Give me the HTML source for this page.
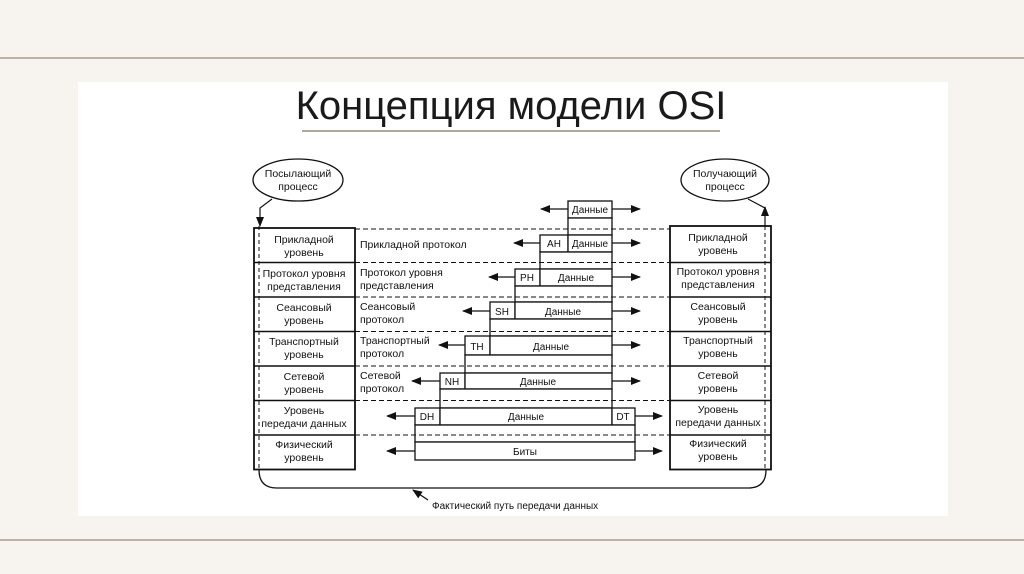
<!DOCTYPE html>
<html><head><meta charset="utf-8"><style>
html,body{margin:0;padding:0;width:1024px;height:574px;overflow:hidden;background:#f7f3ef}
svg{display:block}
</style></head><body>
<svg width="1024" height="574" viewBox="0 0 1024 574" xmlns="http://www.w3.org/2000/svg" font-family="Liberation Sans, DejaVu Sans, sans-serif">
<defs>
<marker id="ah" markerWidth="10" markerHeight="8" refX="9" refY="4" orient="auto" markerUnits="userSpaceOnUse"><path d="M0,0 L10,4 L0,8 Z" fill="#111"/></marker>
</defs>
<line x1="0" y1="58" x2="1024" y2="58" stroke="#a89b8c" stroke-width="1.5"/>
<line x1="0" y1="540" x2="1024" y2="540" stroke="#a89b8c" stroke-width="1.5"/>
<rect x="78" y="82" width="870" height="434" fill="#fff"/>
<text x="511" y="119" font-size="40" text-anchor="middle" fill="#1a1a1a">Концепция модели OSI</text>
<line x1="302" y1="131" x2="720" y2="131" stroke="#9a8a78" stroke-width="1.5"/>

<g stroke="#111" fill="none" font-size="10.5">
<ellipse cx="298" cy="180" rx="45" ry="21" stroke-width="1.3"/>
<ellipse cx="725" cy="180" rx="44" ry="21" stroke-width="1.3"/>
<path d="M272,199 L260,208 L260,226" stroke-width="1.2" marker-end="url(#ah)"/>
<path d="M765,226 L765,208 L748,199" stroke-width="1.2"/>
<path d="M765,216 L765,207" stroke-width="1.2" marker-end="url(#ah)"/>
<line x1="259" y1="226" x2="259" y2="470" stroke-dasharray="4,3" stroke-width="1"/>
<line x1="765" y1="226" x2="765" y2="470" stroke-dasharray="4,3" stroke-width="1"/>

<rect x="254" y="228" width="101" height="241.5" stroke-width="1.8"/>
<rect x="670" y="226" width="101" height="243.5" stroke-width="1.8"/>
<g stroke-width="1.5">
<line x1="254" y1="262.5" x2="355" y2="262.5"/><line x1="254" y1="297" x2="355" y2="297"/>
<line x1="254" y1="331.5" x2="355" y2="331.5"/><line x1="254" y1="366" x2="355" y2="366"/>
<line x1="254" y1="400.5" x2="355" y2="400.5"/><line x1="254" y1="435" x2="355" y2="435"/>
<line x1="670" y1="262.5" x2="771" y2="262.5"/><line x1="670" y1="297" x2="771" y2="297"/>
<line x1="670" y1="331.5" x2="771" y2="331.5"/><line x1="670" y1="366" x2="771" y2="366"/>
<line x1="670" y1="400.5" x2="771" y2="400.5"/><line x1="670" y1="435" x2="771" y2="435"/>
</g>

<g stroke-width="1.3" fill="#fff">
<rect x="568" y="201" width="44" height="17"/><rect x="568" y="218" width="44" height="17"/>
<rect x="540" y="235" width="28" height="17"/><rect x="568" y="235" width="44" height="17"/>
<rect x="540" y="252" width="72" height="17"/>
<rect x="515" y="269" width="25" height="17"/><rect x="540" y="269" width="72" height="17"/>
<rect x="515" y="286" width="97" height="16"/>
<rect x="490" y="302" width="25" height="17"/><rect x="515" y="302" width="97" height="17"/>
<rect x="490" y="319" width="122" height="17"/>
<rect x="465" y="336" width="25" height="19"/><rect x="490" y="336" width="122" height="19"/>
<rect x="465" y="355" width="147" height="18"/>
<rect x="440" y="373" width="25" height="16"/><rect x="465" y="373" width="147" height="16"/>
<rect x="440" y="389" width="172" height="19"/>
<rect x="415" y="408" width="25" height="17"/><rect x="440" y="408" width="172" height="17"/><rect x="612" y="408" width="23" height="17"/>
<rect x="415" y="425" width="220" height="17"/>
<rect x="415" y="442" width="220" height="18"/>
</g>
<g stroke-dasharray="5,3" stroke-width="1">
<line x1="355" y1="229" x2="670" y2="229"/><line x1="355" y1="262.5" x2="670" y2="262.5"/>
<line x1="355" y1="297" x2="670" y2="297"/><line x1="355" y1="331.5" x2="670" y2="331.5"/>
<line x1="355" y1="366" x2="670" y2="366"/><line x1="355" y1="400.5" x2="670" y2="400.5"/>
<line x1="355" y1="435" x2="670" y2="435"/>
</g>
<g stroke-width="1.3">
<line x1="568" y1="209" x2="541" y2="209" marker-end="url(#ah)"/><line x1="612" y1="209" x2="640" y2="209" marker-end="url(#ah)"/>
<line x1="540" y1="243" x2="514" y2="243" marker-end="url(#ah)"/><line x1="612" y1="243" x2="640" y2="243" marker-end="url(#ah)"/>
<line x1="515" y1="277" x2="489" y2="277" marker-end="url(#ah)"/><line x1="612" y1="277" x2="640" y2="277" marker-end="url(#ah)"/>
<line x1="490" y1="311" x2="463" y2="311" marker-end="url(#ah)"/><line x1="612" y1="311" x2="640" y2="311" marker-end="url(#ah)"/>
<line x1="465" y1="345" x2="439" y2="345" marker-end="url(#ah)"/><line x1="612" y1="345" x2="640" y2="345" marker-end="url(#ah)"/>
<line x1="440" y1="381" x2="412" y2="381" marker-end="url(#ah)"/><line x1="612" y1="381" x2="640" y2="381" marker-end="url(#ah)"/>
<line x1="415" y1="416" x2="387" y2="416" marker-end="url(#ah)"/><line x1="635" y1="416" x2="662" y2="416" marker-end="url(#ah)"/>
<line x1="415" y1="451" x2="387" y2="451" marker-end="url(#ah)"/><line x1="635" y1="451" x2="662" y2="451" marker-end="url(#ah)"/>
</g>
<path d="M259,470 Q259,488 277,488 L748,488 Q766,488 766,470" stroke-width="1.3"/>
<line x1="428" y1="500" x2="413" y2="490" stroke-width="1.3" marker-end="url(#ah)"/>
</g>

<g font-size="10.5" fill="#111" text-anchor="middle">
<text x="298" y="177">Посылающий</text><text x="298" y="190">процесс</text>
<text x="725" y="177">Получающий</text><text x="725" y="190">процесс</text>
<text x="304" y="243">Прикладной</text><text x="304" y="256">уровень</text>
<text x="304" y="277">Протокол уровня</text><text x="304" y="290">представления</text>
<text x="304" y="311">Сеансовый</text><text x="304" y="324">уровень</text>
<text x="304" y="345">Транспортный</text><text x="304" y="358">уровень</text>
<text x="304" y="380">Сетевой</text><text x="304" y="393">уровень</text>
<text x="304" y="414">Уровень</text><text x="304" y="427">передачи данных</text>
<text x="304" y="448">Физический</text><text x="304" y="461">уровень</text>
<text x="718" y="241">Прикладной</text><text x="718" y="254">уровень</text>
<text x="718" y="275">Протокол уровня</text><text x="718" y="288">представления</text>
<text x="718" y="310">Сеансовый</text><text x="718" y="323">уровень</text>
<text x="718" y="344">Транспортный</text><text x="718" y="357">уровень</text>
<text x="718" y="379">Сетевой</text><text x="718" y="392">уровень</text>
<text x="718" y="413">Уровень</text><text x="718" y="426">передачи данных</text>
<text x="718" y="447">Физический</text><text x="718" y="460">уровень</text>
<g font-size="10">
<text x="590" y="213">Данные</text>
<text x="554" y="247">AH</text><text x="590" y="247">Данные</text>
<text x="527" y="281">PH</text><text x="576" y="281">Данные</text>
<text x="502" y="315">SH</text><text x="563" y="315">Данные</text>
<text x="477" y="350">TH</text><text x="551" y="350">Данные</text>
<text x="452" y="385">NH</text><text x="538" y="385">Данные</text>
<text x="427" y="420">DH</text><text x="526" y="420">Данные</text><text x="623" y="420">DT</text>
<text x="525" y="455">Биты</text>
</g>
</g>
<g font-size="10.5" fill="#111">
<text x="360" y="248">Прикладной протокол</text>
<text x="360" y="276">Протокол уровня</text><text x="360" y="289">представления</text>
<text x="360" y="310">Сеансовый</text><text x="360" y="323">протокол</text>
<text x="360" y="344">Транспортный</text><text x="360" y="357">протокол</text>
<text x="360" y="379">Сетевой</text><text x="360" y="392">протокол</text>
<text x="432" y="509" font-size="10">Фактический путь передачи данных</text>
</g>
</svg>
</body></html>
